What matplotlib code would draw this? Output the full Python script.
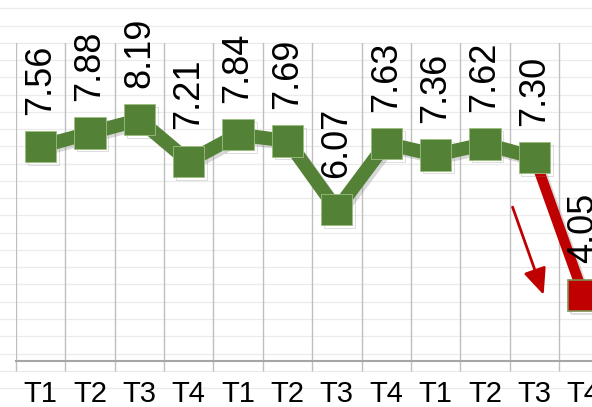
import numpy as np
import matplotlib
matplotlib.use("Agg")
import matplotlib.pyplot as plt
import matplotlib.patheffects as pe
from matplotlib import font_manager

# --- data ---
quarters = ["T1", "T2", "T3", "T4", "T1", "T2", "T3", "T4", "T1", "T2", "T3", "T4"]
scores = [7.56, 7.88, 8.19, 7.21, 7.84, 7.69, 6.07, 7.63, 7.36, 7.62, 7.30, 4.05]
label_text = ["7.56", "7.88", "8.19", "7.21", "7.84", "7.69", "6.07", "7.63", "7.36", "7.62", "7.30", "4.05"]

GREEN = "#538135"
RED = "#C00000"
GRID = "#BFBFBF"

# the chart text is a narrow face; use it when it is there
names = {f.name for f in font_manager.fontManager.ttflist}
if "Liberation Sans Narrow" in names:
    plt.rcParams["font.family"] = ["Liberation Sans Narrow", "DejaVu Sans"]
    label_fs, tick_fs = 29, 21
else:
    plt.rcParams["font.family"] = ["Liberation Sans", "DejaVu Sans"]
    label_fs, tick_fs = 26, 21

W, H = 592, 407
fig = plt.figure(figsize=(W / 100, H / 100), dpi=100)

# faint sheet lines behind the chart
bg = fig.add_axes([0, 0, 1, 1], zorder=-1)
bg.set_xlim(0, W)
bg.set_ylim(H, 0)
bg.axis("off")
for k in range(23):
    bg.axhline(8.3 + k * 17.26, color="#EBEBEB", lw=0.9)

# plot area: left edge at 16px, 49.36px per category, runs past the right edge
left, bottom_px, top_px = 16, 361, 43
ax = fig.add_axes([left / W, (H - bottom_px) / H, 12 * 49.36 / W, (bottom_px - top_px) / H])
ax.set_facecolor("none")

x = np.arange(len(scores))
shadow = [pe.SimpleLineShadow(offset=(2, -2), shadow_color="gray", alpha=0.3), pe.Normal()]

# red drop for the last point
ax.plot(x[-2:], scores[-2:], color=RED, lw=7.5, solid_capstyle="butt",
        path_effects=shadow, zorder=2)
ax.plot(x[-1:], scores[-1:], ls="none", marker="s", ms=22.5, mfc=RED,
        mec="#7F8F55", mew=1.2, path_effects=shadow, zorder=3)

# green series
ax.plot(x[:-1], scores[:-1], color=GREEN, lw=10, marker="s", ms=22.5,
        mfc=GREEN, mec="#9DBE80", mew=0.6, solid_joinstyle="miter",
        path_effects=shadow, zorder=4)

for xi, yi, t in zip(x, scores, label_text):
    ax.annotate(t, (xi, yi), xytext=(0, 23), textcoords="offset points",
                rotation=90, ha="center", va="bottom", fontsize=label_fs,
                color="black", annotation_clip=False, zorder=5)

# arrow pointing at the drop
ax.annotate("", xy=(10.19, 4.06), xytext=(9.56, 6.13),
            arrowprops=dict(arrowstyle="-|>,head_length=0.8,head_width=0.35",
                            color=RED, lw=2, mutation_scale=20, shrinkA=0, shrinkB=0),
            zorder=5)

ax.set_xlim(-0.5, len(scores) - 0.5)
ax.set_ylim(2.5, 10)
ax.set_yticks([])

ax.set_xticks(x)
ax.set_xticklabels(quarters, fontsize=tick_fs)
ax.set_xticks(np.arange(-0.5, len(scores), 1), minor=True)
ax.tick_params(axis="x", which="major", length=0, pad=14)
ax.tick_params(axis="x", which="minor", length=7, width=1, color=GRID, direction="out")
ax.grid(which="minor", axis="x", color=GRID, lw=1)
ax.set_axisbelow(True)

for s in ["top", "right", "left"]:
    ax.spines[s].set_visible(False)
ax.spines["bottom"].set_color("#A6A6A6")
ax.spines["bottom"].set_linewidth(1.5)

fig.savefig("out.png", dpi=100)
